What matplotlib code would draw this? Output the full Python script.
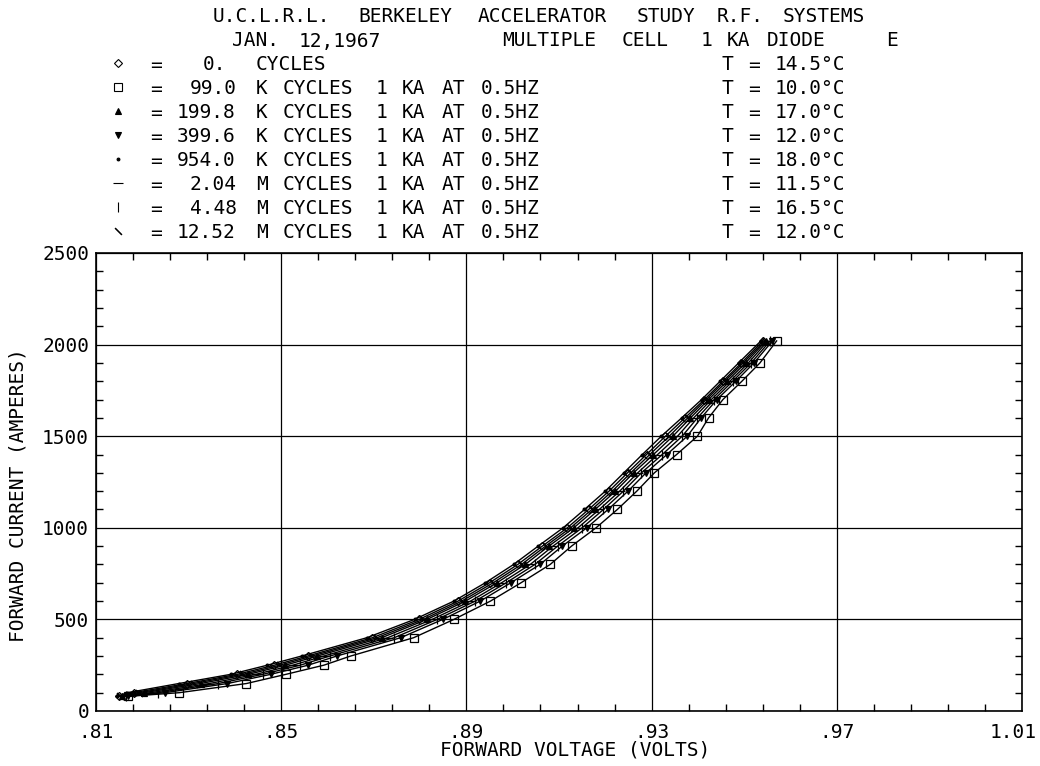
import re
import matplotlib
matplotlib.use('Agg')
import matplotlib.pyplot as plt
from matplotlib.lines import Line2D
from matplotlib.transforms import ScaledTranslation

# forward current steps (A) shared by all runs
amps = [80, 100, 150, 200, 250, 300, 400, 500, 600, 700, 800, 900, 1000,
        1100, 1200, 1300, 1400, 1500, 1600, 1700, 1800, 1900, 2020]

# forward voltage (V) for each run
v_0 = [.8149, .8181, .8297, .8405, .8485, .8557, .8697, .8798, .8882, .8950, .9011, .9064,
       .9118, .9164, .9208, .9248, .9289, .9330, .9372, .9414, .9454, .9494, .9540]
v_99k = [.8170, .8280, .8425, .8510, .8592, .8650, .8786, .8873, .8952, .9018, .9081, .9127,
         .9180, .9226, .9268, .9306, .9354, .9399, .9423, .9454, .9495, .9534, .9570]
v_200k = [.8156, .8204, .8326, .8429, .8509, .8578, .8717, .8815, .8898, .8966, .9027, .9078,
          .9132, .9178, .9222, .9261, .9304, .9346, .9384, .9423, .9463, .9503, .9547]
v_400k = [.8169, .8249, .8384, .8477, .8558, .8620, .8758, .8849, .8930, .8996, .9059, .9107,
          .9160, .9206, .9249, .9288, .9333, .9377, .9407, .9441, .9482, .9521, .9561]
v_954k = [.8145, .8168, .8279, .8391, .8470, .8544, .8685, .8788, .8873, .8941, .9002, .9055,
          .9109, .9155, .9200, .9240, .9280, .9321, .9365, .9408, .9448, .9488, .9536]
v_2m = [.8160, .8218, .8345, .8445, .8525, .8592, .8730, .8826, .8909, .8976, .9038, .9087,
        .9141, .9187, .9231, .9270, .9313, .9356, .9391, .9429, .9469, .9509, .9551]
v_4m = [.8165, .8233, .8364, .8460, .8541, .8605, .8744, .8837, .8919, .8986, .9048, .9097,
        .9150, .9196, .9239, .9278, .9323, .9366, .9399, .9435, .9475, .9515, .9556]
v_12m = [.8152, .8193, .8311, .8417, .8497, .8567, .8707, .8807, .8890, .8958, .9019, .9071,
         .9125, .9171, .9215, .9255, .9296, .9338, .9378, .9418, .9458, .9498, .9544]

runs = [v_0, v_99k, v_200k, v_400k, v_954k, v_2m, v_4m, v_12m]
cycles = ['  0.  CYCLES',
          ' 99.0 K CYCLES 1 KA AT 0.5HZ',
          '199.8 K CYCLES 1 KA AT 0.5HZ',
          '399.6 K CYCLES 1 KA AT 0.5HZ',
          '954.0 K CYCLES 1 KA AT 0.5HZ',
          ' 2.04 M CYCLES 1 KA AT 0.5HZ',
          ' 4.48 M CYCLES 1 KA AT 0.5HZ',
          '12.52 M CYCLES 1 KA AT 0.5HZ']
temps = ['14.5', '10.0', '17.0', '12.0', '18.0', '11.5', '16.5', '12.0']

xticks = [.81, .85, .89, .93, .97, 1.01]
xtick_labels = ['.81', '.85', '.89', '.93', '.97', '1.01']
yticks = [0, 500, 1000, 1500, 2000, 2500]
ytick_labels = ['0', '500', '1000', '1500', '2000', '2500']

# marker style per run (same order as runs)
styles = [dict(marker='D', ms=4, mfc='none'),
          dict(marker='s', ms=6, mfc='none'),
          dict(marker='^', ms=4, mfc='k'),
          dict(marker='v', ms=4, mfc='k'),
          dict(marker='.', ms=4, mfc='k'),
          dict(marker='_', ms=7, mfc='k'),
          dict(marker='|', ms=7, mfc='k'),
          dict(marker=(2, 2, 45), ms=7, mfc='k')]

W, H = 1040, 766
FONT = 'DejaVu Sans Mono'
FS = 14
PITCH = 13.25

fig = plt.figure(figsize=(W / 100, H / 100), dpi=100)
ax = fig.add_axes([96 / W, 1 - 711 / H, (1022 - 96) / W, (711 - 253) / H])

for v, st in zip(runs, styles):
    ax.plot(v, amps, color='k', lw=1.0, mec='k', mew=0.9, **st)

ax.set_xlim(.81, 1.01)
ax.set_ylim(0, 2500)
ax.set_xticks(xticks)
ax.set_xticklabels(xtick_labels, family=FONT, fontsize=FS)
ax.set_yticks(yticks)
ax.set_yticklabels(ytick_labels, family=FONT, fontsize=FS)
ax.set_xticks([.81 + .008 * k for k in range(26)], minor=True)
ax.set_yticks(list(range(0, 2501, 100)), minor=True)
ax.tick_params(which='both', direction='in', top=True, right=True, width=1)
ax.tick_params(which='major', length=0)
ax.tick_params(which='minor', length=5)
ax.tick_params(axis='x', which='major', pad=9)
ax.tick_params(axis='y', which='major', pad=5)
ax.grid(True, which='major', color='k', lw=0.9)
for s in ax.spines.values():
    s.set_linewidth(1.2)

# last x label sits flush with the right edge of the page
last = ax.get_xticklabels()[-1]
last.set_ha('right')
last.set_transform(last.get_transform() + ScaledTranslation(0.15, 0, fig.dpi_scale_trans))

fig.text(575 / W, 1 - 750 / H, 'FORWARD VOLTAGE (VOLTS)', family=FONT, fontsize=FS,
         ha='center', va='center')
fig.text(18 / W, 1 - 495 / H, 'FORWARD CURRENT (AMPERES)', family=FONT, fontsize=FS,
         ha='center', va='center', rotation=90)


def put_row(s, x0, y):
    # lay words out on the plotter's fixed character grid
    for m in re.finditer(r'\S+', s):
        fig.text((x0 + m.start() * PITCH) / W, 1 - y / H, m.group(), family=FONT,
                 fontsize=FS, ha='left', va='center')


put_row('U.C.L.R.L. BERKELEY ACCELERATOR STUDY R.F. SYSTEMS', 213, 17)
put_row('JAN. 12,1967', 232, 41)
put_row('MULTIPLE CELL  1 KA DIODE    E', 502, 41)

for i, (c, t, st) in enumerate(zip(cycles, temps, styles)):
    y = 65 + 24 * i
    put_row('= ' + c, 150, y)
    put_row('T = ' + t + '°C', 722, y)
    fig.add_artist(Line2D([118 / W], [1 - (y - 2) / H], color='k', mec='k', mew=0.8,
                          transform=fig.transFigure, **st))

fig.savefig('out.png', dpi=100)
